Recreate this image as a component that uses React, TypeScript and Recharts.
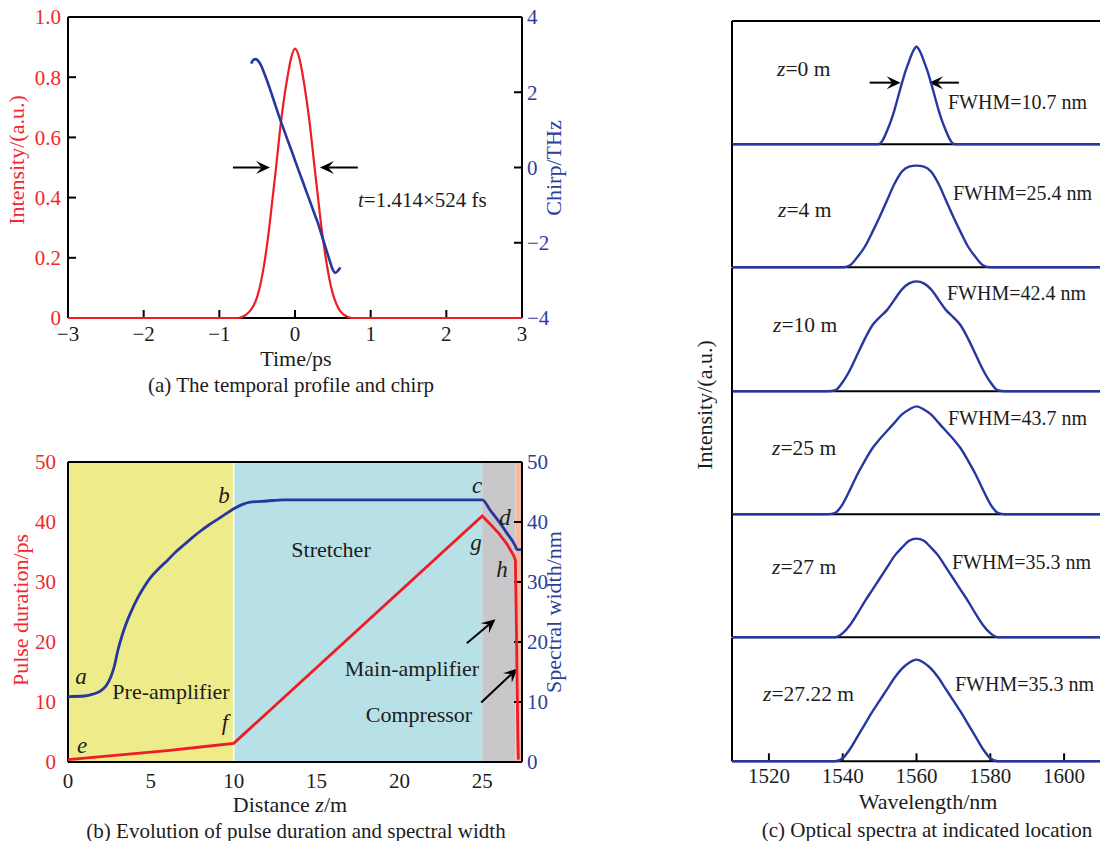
import type { ReactNode } from 'react'
import { LineChart, Line, XAxis, YAxis, ReferenceLine, ReferenceArea } from 'recharts'

const SERIF = '"Liberation Serif", "Times New Roman", Times, serif'
const RED = '#ee1c24'
const BLUE = '#2737a0'
const RED_TEXT = '#f0272d'
const BLUE_TEXT = '#2d3e9d'
const INK = '#1c1c1c'
const TICK_FONT = 21

// (a) temporal profile and chirp
const timeTicks = [-3, -2, -1, 0, 1, 2, 3]
const intensityTicks = [0, 0.2, 0.4, 0.6, 0.8, 1]
const chirpTicks = [-4, -2, 0, 2, 4]

const pulseT = [-3, -0.75, -0.7, -0.65, -0.6, -0.55, -0.5, -0.45, -0.4, -0.35, -0.3, -0.25, -0.2, -0.15, -0.1, -0.05, 0, 0.05, 0.1, 0.15, 0.2, 0.25, 0.3, 0.35, 0.4, 0.45, 0.5, 0.55, 0.6, 0.65, 0.7, 0.75, 3]
const pulseI = [0, 0, 0.003, 0.01, 0.022, 0.04, 0.07, 0.12, 0.19, 0.28, 0.39, 0.5, 0.62, 0.72, 0.8, 0.865, 0.895, 0.87, 0.81, 0.73, 0.635, 0.52, 0.41, 0.3, 0.21, 0.135, 0.08, 0.045, 0.022, 0.01, 0.003, 0, 0]

const chirpT = [-0.58, -0.55, -0.52, -0.5, -0.45, -0.4, -0.35, -0.3, -0.25, -0.2, -0.15, -0.1, -0.05, 0, 0.05, 0.1, 0.15, 0.2, 0.25, 0.3, 0.35, 0.4, 0.45, 0.5, 0.53, 0.56, 0.6]
const chirpTHz = [2.76, 2.86, 2.88, 2.86, 2.72, 2.47, 2.2, 1.9, 1.6, 1.3, 1.02, 0.74, 0.47, 0.19, -0.09, -0.36, -0.64, -0.91, -1.19, -1.46, -1.78, -2.1, -2.42, -2.72, -2.8, -2.76, -2.66]

// (b) evolution along the fibre
const distanceTicks = [0, 5, 10, 15, 20, 25]
const durationTicks = [0, 10, 20, 30, 40, 50]

const widthZ = [0, 1, 1.5, 2, 2.3, 2.6, 2.8, 3, 3.2, 3.5, 3.8, 4.2, 4.6, 5, 5.5, 6, 6.5, 7, 7.5, 8, 8.5, 9, 9.5, 10, 10.5, 11, 12, 13, 20, 25, 25.5, 26, 26.5, 27, 27.1, 27.35]
const widthNm = [10.9, 11, 11.3, 11.9, 12.7, 14.3, 16, 18.5, 20.5, 23, 25, 27.3, 29.2, 30.8, 32.3, 33.6, 35, 36.2, 37.4, 38.5, 39.5, 40.4, 41.3, 42.2, 42.9, 43.3, 43.5, 43.7, 43.7, 43.7, 41.9, 40.1, 38.1, 36, 35.4, 35.4]

const durationZ = [0, 2, 4, 6, 8, 10, 25, 25.5, 26, 26.5, 26.9, 27, 27.05, 27.1, 27.15, 27.18]
const durationPs = [0.4, 0.9, 1.4, 1.9, 2.5, 3.1, 41, 39.6, 38.1, 36.3, 34.4, 33.6, 25, 14, 4, 0.4]

const stageBounds = [0, 10, 25, 27, 27.4]
const stageFills = ['#eeeb8b', '#b8e0e7', '#c8c8ca', '#f5b9a3']

// (c) optical spectra
const wavelengthTicks = [1520, 1540, 1560, 1580, 1600]
const narrowGrid = [1510, 1549, 1550, 1551, 1552, 1553, 1554, 1555, 1556, 1557, 1558, 1559, 1560, 1561, 1562, 1563, 1564, 1565, 1566, 1567, 1568, 1569, 1570, 1571, 1610]
const wideGrid = [1510, 1536, 1538, 1540, 1542, 1544, 1546, 1548, 1550, 1552, 1554, 1556, 1558, 1560, 1562, 1564, 1566, 1568, 1570, 1572, 1574, 1576, 1578, 1580, 1582, 1584, 1610]

const specZ0 = [0, 0, 0.005, 0.05, 0.13, 0.22, 0.33, 0.46, 0.59, 0.71, 0.81, 0.9, 0.95, 0.9, 0.81, 0.71, 0.59, 0.46, 0.33, 0.22, 0.13, 0.05, 0.005, 0, 0]
const specZ4 = [0, 0, 0, 0, 0.02, 0.1, 0.2, 0.34, 0.49, 0.65, 0.81, 0.93, 0.98, 0.99, 0.98, 0.93, 0.81, 0.65, 0.49, 0.34, 0.2, 0.1, 0.02, 0, 0, 0, 0]
const specZ10 = [0, 0, 0.01, 0.09, 0.21, 0.36, 0.51, 0.64, 0.72, 0.79, 0.89, 0.99, 1.05, 1.07, 1.05, 0.99, 0.89, 0.79, 0.72, 0.64, 0.51, 0.36, 0.21, 0.09, 0.01, 0, 0]
const specZ25 = [0, 0, 0.015, 0.1, 0.24, 0.39, 0.52, 0.64, 0.73, 0.81, 0.89, 0.97, 1.02, 1.05, 1.02, 0.97, 0.89, 0.81, 0.73, 0.64, 0.52, 0.39, 0.24, 0.1, 0.015, 0, 0]
const specZ27 = [0, 0, 0, 0.04, 0.12, 0.23, 0.35, 0.46, 0.57, 0.68, 0.79, 0.87, 0.94, 0.96, 0.94, 0.87, 0.79, 0.68, 0.57, 0.46, 0.35, 0.23, 0.12, 0.04, 0, 0, 0]
const specZ2722 = [0, 0, 0, 0.03, 0.12, 0.24, 0.36, 0.48, 0.59, 0.7, 0.81, 0.9, 0.96, 0.99, 0.96, 0.9, 0.81, 0.7, 0.59, 0.48, 0.36, 0.24, 0.12, 0.03, 0, 0, 0]

const positionsZ = ['0', '4', '10', '25', '27', '27.22']
const fwhmNm = ['10.7', '25.4', '42.4', '43.7', '35.3', '35.3']

const toRows = (xs: number[], ys: number[]) => xs.map((x, i) => ({ x, v: ys[i] }))

const pulseData = toRows(pulseT, pulseI)
const chirpData = toRows(chirpT, chirpTHz)
const widthData = toRows(widthZ, widthNm)
const durationData = toRows(durationZ, durationPs)
const spectra = [
  toRows(narrowGrid, specZ0),
  toRows(wideGrid, specZ4),
  toRows(wideGrid, specZ10),
  toRows(wideGrid, specZ25),
  toRows(wideGrid, specZ27),
  toRows(wideGrid, specZ2722),
]

const minus = (v: number) => (v < 0 ? `\u2212${Math.abs(v)}` : `${v}`)
const axisLine = { stroke: '#000', strokeWidth: 2 }
const tickLine = { stroke: '#000', strokeWidth: 2 }
// drawn above the axes so the zero lines keep their colour
const LINE_Z = 600

function ArrowShape(props: any) {
  const { x1, y1, x2, y2 } = props
  if ([x1, y1, x2, y2].some((v) => typeof v !== 'number' || Number.isNaN(v))) return <g />
  const a = Math.atan2(y2 - y1, x2 - x1)
  const cos = Math.cos(a)
  const sin = Math.sin(a)
  const len = 14
  const half = 6.5
  const bx = x2 - len * cos
  const by = y2 - len * sin
  const nx = x2 - len * 0.6 * cos
  const ny = y2 - len * 0.6 * sin
  return (
    <g>
      <line x1={x1} y1={y1} x2={nx} y2={ny} stroke="#000" strokeWidth={2} />
      <polygon
        points={`${x2},${y2} ${bx - half * sin},${by + half * cos} ${nx},${ny} ${bx + half * sin},${by - half * cos}`}
        fill="#000"
      />
    </g>
  )
}

type TxtProps = {
  x: number
  y: number
  children: ReactNode
  size?: number
  color?: string
  center?: boolean
  rotate?: boolean
  italic?: boolean
}

function Txt({ x, y, children, size = 21, color = INK, center = true, rotate = false, italic = false }: TxtProps) {
  return (
    <div
      style={{
        position: 'absolute',
        left: x,
        top: y,
        transform: `translate(${center ? '-50%' : '0'}, -50%)${rotate ? ' rotate(-90deg)' : ''}`,
        fontSize: size,
        color,
        whiteSpace: 'nowrap',
        lineHeight: 1,
        fontStyle: italic ? 'italic' : 'normal',
      }}
    >
      {children}
    </div>
  )
}

function PanelA() {
  return (
    <>
      <div style={{ position: 'absolute', left: 0, top: 0 }}>
        <LineChart width={560} height={400} margin={{ top: 17, right: 0, bottom: 0, left: 0 }}>
          <XAxis
            type="number"
            dataKey="x"
            domain={[-3, 3]}
            ticks={timeTicks}
            interval={0}
            tickFormatter={minus}
            height={82}
            axisLine={axisLine}
            tickLine={tickLine}
            tickSize={-8}
            tickMargin={16}
            tick={{ fill: INK, fontSize: TICK_FONT }}
          />
          <YAxis
            yAxisId="i"
            domain={[0, 1]}
            ticks={intensityTicks}
            interval={0}
            width={68}
            tickFormatter={(v: number) => (v === 0 ? '0' : v.toFixed(1))}
            axisLine={axisLine}
            tickLine={tickLine}
            tickSize={-8}
            tickMargin={15}
            tick={{ fill: RED_TEXT, fontSize: TICK_FONT }}
          />
          <YAxis
            yAxisId="c"
            orientation="right"
            domain={[-4, 4]}
            ticks={chirpTicks}
            interval={0}
            width={38}
            tickFormatter={minus}
            axisLine={axisLine}
            tickLine={tickLine}
            tickSize={-8}
            tickMargin={13}
            tick={{ fill: BLUE_TEXT, fontSize: TICK_FONT }}
          />
          <ReferenceLine yAxisId="i" y={1} stroke="#000" strokeWidth={2} />
          <Line yAxisId="i" data={pulseData} dataKey="v" type="monotone" stroke={RED} strokeWidth={2.2} dot={false} isAnimationActive={false} zIndex={LINE_Z} />
          <Line yAxisId="c" data={chirpData} dataKey="v" type="monotone" stroke={BLUE} strokeWidth={2.6} dot={false} isAnimationActive={false} zIndex={LINE_Z} />
          <ReferenceLine yAxisId="i" segment={[{ x: -0.82, y: 0.5 }, { x: -0.33, y: 0.5 }]} shape={ArrowShape} />
          <ReferenceLine yAxisId="i" segment={[{ x: 0.83, y: 0.5 }, { x: 0.33, y: 0.5 }]} shape={ArrowShape} />
        </LineChart>
      </div>
      <Txt x={17} y={160} color={RED_TEXT} rotate size={22}>Intensity/(a.u.)</Txt>
      <Txt x={554} y={168} color={BLUE_TEXT} rotate size={22}>Chirp/THz</Txt>
      <Txt x={358} y={200} center={false}>
        <i>t</i>=1.414×524 fs
      </Txt>
      <Txt x={296} y={359} size={22}>Time/ps</Txt>
      <Txt x={291} y={385}>(a) The temporal profile and chirp</Txt>
    </>
  )
}

function PanelB() {
  return (
    <>
      <div style={{ position: 'absolute', left: 0, top: 440 }}>
        <LineChart width={560} height={360} margin={{ top: 22, right: 0, bottom: 0, left: 0 }}>
          <XAxis
            type="number"
            dataKey="x"
            domain={[0, 27.4]}
            allowDataOverflow
            ticks={distanceTicks}
            interval={0}
            height={38}
            axisLine={axisLine}
            tickLine={false}
            tickMargin={5}
            tick={{ fill: INK, fontSize: TICK_FONT }}
          />
          <YAxis
            yAxisId="d"
            domain={[0, 50]}
            ticks={durationTicks}
            interval={0}
            width={68}
            axisLine={axisLine}
            tickLine={false}
            tickMargin={6}
            tick={{ fill: RED_TEXT, fontSize: TICK_FONT }}
          />
          <YAxis
            yAxisId="w"
            orientation="right"
            domain={[0, 50]}
            ticks={durationTicks}
            interval={0}
            width={38}
            axisLine={axisLine}
            tickLine={tickLine}
            tickSize={-8}
            tickMargin={13}
            tick={{ fill: BLUE_TEXT, fontSize: TICK_FONT }}
          />
          {stageFills.map((fill, i) => (
            <ReferenceArea
              key={i}
              yAxisId="d"
              x1={stageBounds[i]}
              x2={stageBounds[i + 1]}
              y1={0}
              y2={50}
              fill={fill}
              fillOpacity={1}
              stroke="none"
            />
          ))}
          <ReferenceLine yAxisId="d" x={10} stroke="#ffffff" strokeWidth={1.5} />
          <ReferenceLine yAxisId="d" y={50} stroke="#000" strokeWidth={2} />
          <Line yAxisId="w" data={widthData} dataKey="v" type="monotone" stroke={BLUE} strokeWidth={2.8} dot={false} isAnimationActive={false} zIndex={LINE_Z} />
          <Line yAxisId="d" data={durationData} dataKey="v" type="linear" stroke={RED} strokeWidth={2.8} dot={false} isAnimationActive={false} zIndex={LINE_Z} />
          <ReferenceLine yAxisId="d" segment={[{ x: 24.07, y: 19.8 }, { x: 25.8, y: 23.8 }]} shape={ArrowShape} />
          <ReferenceLine yAxisId="d" segment={[{ x: 24.94, y: 9.9 }, { x: 27.13, y: 15.6 }]} shape={ArrowShape} />
        </LineChart>
      </div>
      <Txt x={21} y={610} color={RED_TEXT} rotate size={22}>Pulse duration/ps</Txt>
      <Txt x={554} y={612} color={BLUE_TEXT} rotate size={22}>Spectral width/nm</Txt>
      <Txt x={81} y={676} size={23} italic>a</Txt>
      <Txt x={224} y={495} size={23} italic>b</Txt>
      <Txt x={477} y={485} size={23} italic>c</Txt>
      <Txt x={505} y={517} size={23} italic>d</Txt>
      <Txt x={82} y={745} size={23} italic>e</Txt>
      <Txt x={225} y={722} size={23} italic>f</Txt>
      <Txt x={476} y={542} size={23} italic>g</Txt>
      <Txt x={502} y={569} size={23} italic>h</Txt>
      <Txt x={331} y={550} size={22}>Stretcher</Txt>
      <Txt x={171} y={692} size={22}>Pre-amplifier</Txt>
      <Txt x={412} y={669} size={22}>Main-amplifier</Txt>
      <Txt x={419} y={715} size={22}>Compressor</Txt>
      <Txt x={290} y={805} size={22}>
        Distance <i>z</i>/m
      </Txt>
      <Txt x={296} y={831}>(b) Evolution of pulse duration and spectral width</Txt>
    </>
  )
}

const BAND_TOP = 21
const BAND_H = 123.3
const zLabelX = [777, 778, 773, 772, 772, 763]
const zLabelY = [70, 211, 326, 449, 568, 695]
const fwhmX = [948, 953, 947, 948, 952, 955]
const fwhmY = [102, 193, 293, 418, 562, 684]

function SpectrumBand({ idx }: { idx: number }) {
  const first = idx === 0
  const last = idx === spectra.length - 1
  const axisH = last ? 80 : 2
  const pad = first ? 2 : 0
  const top = BAND_TOP + idx * BAND_H - pad
  return (
    <div style={{ position: 'absolute', left: 722, top }}>
      <LineChart width={379} height={BAND_H + axisH + pad} margin={{ top: pad, right: 0, bottom: 0, left: 0 }}>
        <XAxis
          type="number"
          dataKey="x"
          domain={[1510, 1610]}
          ticks={wavelengthTicks}
          interval={0}
          height={axisH}
          axisLine={axisLine}
          tickLine={last ? tickLine : false}
          tick={last ? { fill: INK, fontSize: TICK_FONT } : false}
          tickSize={-8}
          tickMargin={15}
        />
        <YAxis domain={[0, 1.2]} width={10} tick={false} tickLine={false} axisLine={axisLine} />
        {first && <ReferenceLine y={1.2} stroke="#000" strokeWidth={2} />}
        <Line data={spectra[idx]} dataKey="v" type="monotone" stroke={BLUE} strokeWidth={2.4} dot={false} isAnimationActive={false} zIndex={LINE_Z} />
        {first && <ReferenceLine segment={[{ x: 1547.3, y: 0.6 }, { x: 1555.7, y: 0.6 }]} shape={ArrowShape} />}
        {first && <ReferenceLine segment={[{ x: 1571.5, y: 0.6 }, { x: 1563.4, y: 0.6 }]} shape={ArrowShape} />}
      </LineChart>
    </div>
  )
}

function PanelC() {
  return (
    <>
      {spectra.map((_, i) => (
        <SpectrumBand key={i} idx={i} />
      ))}
      {positionsZ.map((z, i) => (
        <Txt key={`z${i}`} x={zLabelX[i]} y={zLabelY[i]} size={21.5} center={false}>
          <i>z</i>={z} m
        </Txt>
      ))}
      {fwhmNm.map((w, i) => (
        <Txt key={`w${i}`} x={fwhmX[i]} y={fwhmY[i]} size={20} center={false}>
          FWHM={w} nm
        </Txt>
      ))}
      <Txt x={705} y={405} rotate size={22}>Intensity/(a.u.)</Txt>
      <Txt x={928} y={802} size={22}>Wavelength/nm</Txt>
      <Txt x={927} y={830}>(c) Optical spectra at indicated location</Txt>
    </>
  )
}

export default function App() {
  return (
    <div
      style={{
        position: 'absolute',
        left: 0,
        top: 0,
        width: 1100,
        height: 841,
        overflow: 'hidden',
        background: '#fff',
        fontFamily: SERIF,
        color: INK,
      }}
    >
      <PanelA />
      <PanelB />
      <PanelC />
    </div>
  )
}
